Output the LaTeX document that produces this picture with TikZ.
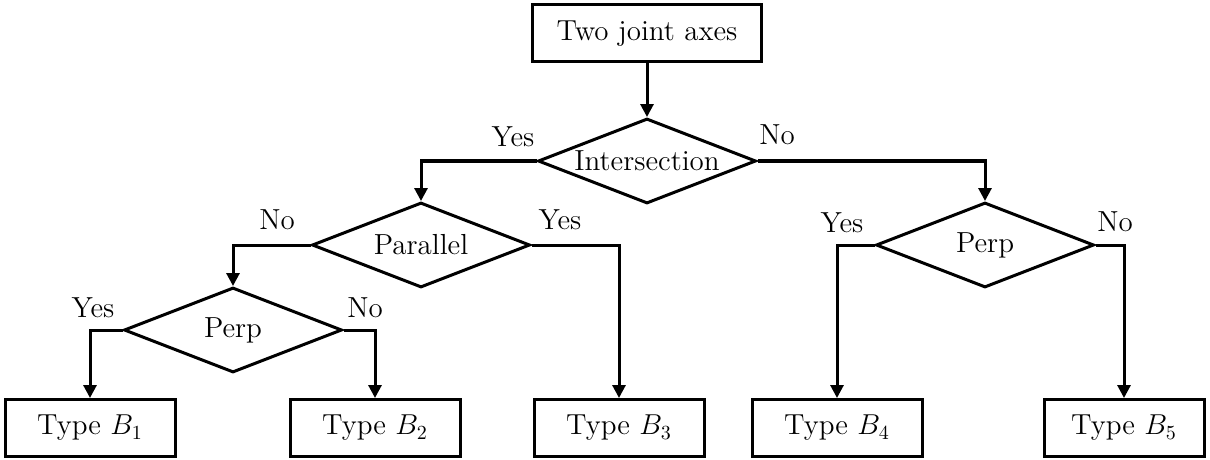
\documentclass[tikz,border=0pt]{standalone}
\usepackage{amsmath}
\usepackage{tikz}
\usetikzlibrary{shapes.geometric,arrows.meta}

\begin{document}
\begin{tikzpicture}[x=0.5pt,y=-0.5pt,line width=1.5pt,
  every node/.style={font=\fontsize{14.5}{17}\selectfont},
  box/.style={shape=rectangle,draw,minimum width=85pt,minimum height=28.5pt,inner sep=0pt},
  test/.style={shape=diamond,draw,aspect=2.5,minimum width=109pt,minimum height=42.5pt,inner sep=0pt},
  arr/.style={-{Triangle[width=6.5pt,length=6.5pt]}}]
\useasboundingbox (0,0) rectangle (1210,460);
% boxes and tests
\path (647,33.5) node (axes) [box,minimum width=114.5pt] {Two joint axes};
\path (647,161) node (inter) [test] {Intersection};
\path (421,245) node (par) [test] {Parallel};
\path (233,330) node (perpl) [test] {Perp};
\path (985,245) node (perpr) [test] {Perp};
\path (90,428) node (b1) [box] {Type $B_1$};
\path (375,428) node (b2) [box] {Type $B_2$};
\path (619,428) node (b3) [box] {Type $B_3$};
\path (837,428) node (b4) [box] {Type $B_4$};
\path (1124,428) node (b5) [box,minimum width=80pt] {Type $B_5$};

% answers
\path (513,137) node (yes1) {Yes};
\path (777,135) node (no1) {No};
\path (277,220) node (no2) {No};
\path (560,220) node (yes2) {Yes};
\path (93,308) node (yes3) {Yes};
\path (365,308) node (no3) {No};
\path (842,223) node (yes4) {Yes};
\path (1115,222) node (no4) {No};

\draw [arr] (axes) to (inter);
\draw [arr] (inter.west) -| (par.north);
\draw [arr] (inter.east) -| (perpr.north);
\draw [arr] (par.west) -| (perpl.north);
\draw [arr] (par.east) -| (b3.north);
\draw [arr] (perpl.west) -| (b1.north);
\draw [arr] (perpl.east) -| (b2.north);
\draw [arr] (perpr.west) -| (b4.north);
\draw [arr] (perpr.east) -| (b5.north);
\end{tikzpicture}
\end{document}
